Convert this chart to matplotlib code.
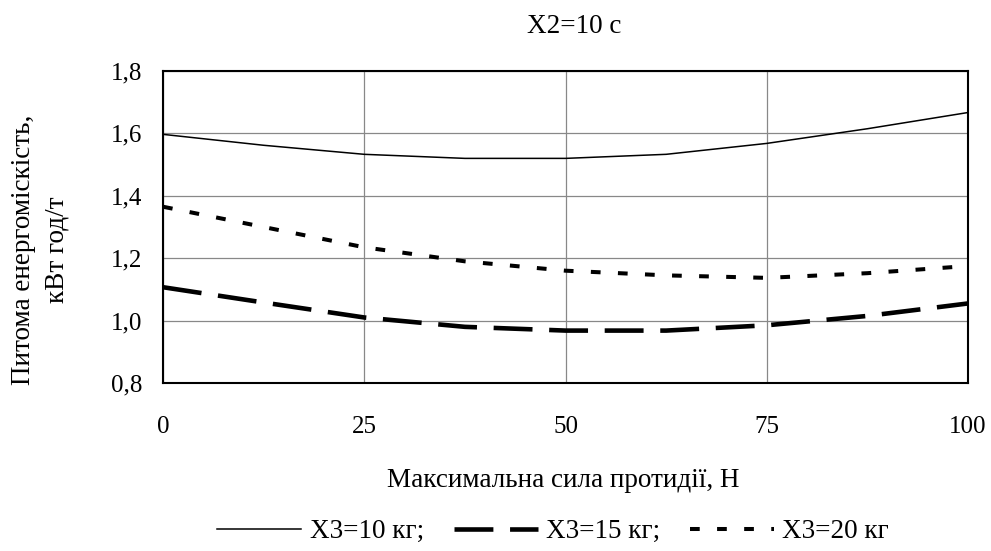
import matplotlib
matplotlib.use("Agg")
import matplotlib.pyplot as plt
from matplotlib.ticker import FuncFormatter

plt.rcParams['font.family'] = ['Liberation Serif', 'DejaVu Serif']
plt.rcParams['lines.scale_dashes'] = False

# Maximum resisting force, N
force = [0, 12.5, 25, 37.5, 50, 62.5, 75, 87.5, 100]
# Specific energy consumption, kWh/t
x3_10 = [1.597, 1.562, 1.533, 1.520, 1.520, 1.533, 1.568, 1.615, 1.667]
x3_15 = [1.107, 1.058, 1.010, 0.980, 0.968, 0.968, 0.985, 1.015, 1.055]
x3_20 = [1.365, 1.300, 1.235, 1.190, 1.160, 1.145, 1.137, 1.152, 1.175]

series_labels = ["X3=10 кг;", "X3=15 кг;", "X3=20 кг"]
x_ticks = [0, 25, 50, 75, 100]
y_ticks = [0.8, 1.0, 1.2, 1.4, 1.6, 1.8]

fig = plt.figure(figsize=(9.91, 5.51), dpi=100)
ax = fig.add_axes([0.1645, 0.3049, 0.8123, 0.5662])

ax.plot(force, x3_10, color='black', lw=1.1, label=series_labels[0])
ax.plot(force, x3_15, color='black', lw=3.3, dashes=(28, 12), dash_capstyle='butt',
        label=series_labels[1])
ax.plot(force, x3_20, color='black', lw=2.9, dashes=(7, 12.5), dash_capstyle='butt',
        label=series_labels[2])

ax.set_xlim(0, 100)
ax.set_ylim(0.8, 1.8)
ax.set_xticks(x_ticks)
ax.set_yticks(y_ticks)
ax.yaxis.set_major_formatter(FuncFormatter(lambda v, p: f"{v:.1f}".replace('.', ',')))
ax.tick_params(length=0, labelsize=18)
ax.tick_params(axis='x', pad=24)
ax.tick_params(axis='y', pad=15)
ax.grid(True, color='#888888', lw=0.9)
ax.set_axisbelow(True)
for s in ax.spines.values():
    s.set_linewidth(1.5)
    s.set_color('black')

fig.text(0.579, 0.940, "X2=10 с", ha='center', va='baseline', fontsize=19.5)
fig.text(0.5685, 0.116, "Максимальна сила протидії, Н", ha='center', va='baseline',
         fontsize=19.5)
fig.text(0.041, 0.546, "Питома енергоміскість,\nкВт год/т", ha='center', va='center',
         rotation=90, fontsize=19.5, linespacing=1.45)

fig.legend(loc='center', bbox_to_anchor=(0.558, 0.035), ncol=3, frameon=False,
           fontsize=19.5, handlelength=3.1, handletextpad=0.3, columnspacing=1.1,
           borderpad=0.0)

fig.savefig("out.png", dpi=100, facecolor='white')
